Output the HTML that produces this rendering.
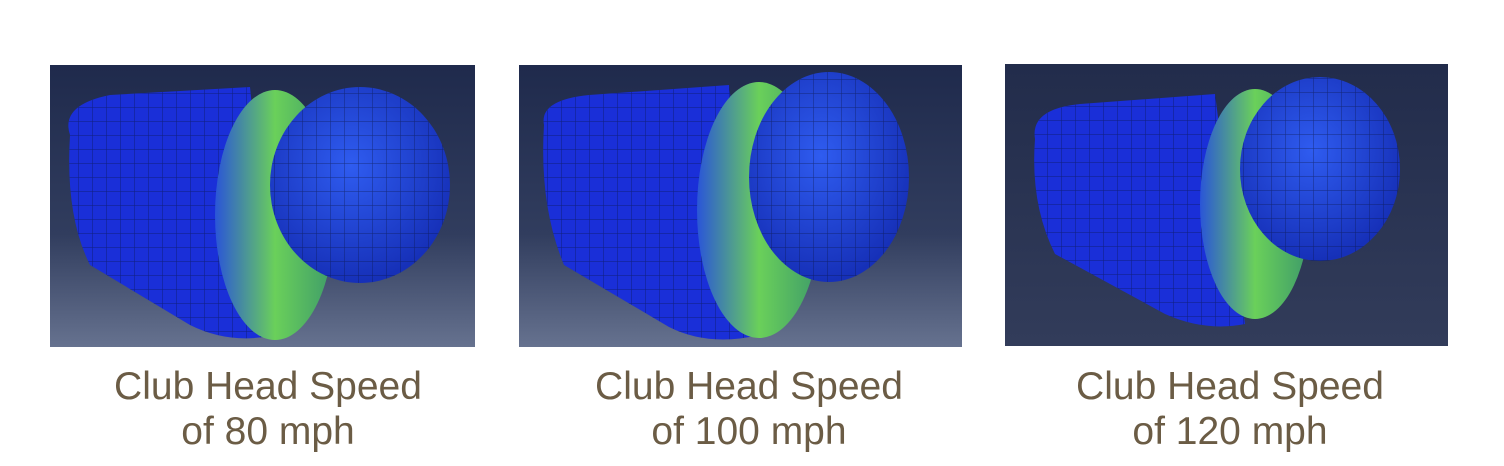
<!DOCTYPE html>
<html><head><meta charset="utf-8"><style>
body{margin:0;width:1504px;height:466px;background:#fff;position:relative;overflow:hidden;font-family:"Liberation Sans",sans-serif}
.panel{position:absolute}
.cap{position:absolute;width:440px;text-align:center;color:#6b5c45;font-size:39px;line-height:45px}
</style></head><body>
<svg width="0" height="0" style="position:absolute">
<defs>
<linearGradient id="bg" x1="0" y1="0" x2="0" y2="1"><stop offset="0" stop-color="#1f2a4c"/><stop offset="0.6" stop-color="#313d5e"/><stop offset="1" stop-color="#66728f"/></linearGradient>
<linearGradient id="bg3" x1="0" y1="0" x2="0" y2="1"><stop offset="0" stop-color="#222c4b"/><stop offset="1" stop-color="#323c5a"/></linearGradient>
<linearGradient id="band" x1="0" y1="0" x2="1" y2="0"><stop offset="0" stop-color="#2a55d8"/><stop offset="0.5" stop-color="#6ad05a"/><stop offset="1" stop-color="#3d9a6a"/></linearGradient>
<radialGradient id="ball" cx="0.45" cy="0.4" r="0.6"><stop offset="0" stop-color="#2f5cf0"/><stop offset="1" stop-color="#1630b8"/></radialGradient>
<pattern id="grid" width="14" height="14" patternUnits="userSpaceOnUse"><path d="M14 0H0V14" fill="none" stroke="#0a1440" stroke-width="1"/></pattern>
</defs></svg>

<div class="panel" style="left:50px;top:65px;width:425px;height:282px">
<svg width="425" height="282"><rect width="425" height="282" fill="url(#bg)"/>
<path d="M20 70 Q10 40 60 30 L200 22 L225 270 Q180 280 140 260 L40 200 Q15 150 20 70Z" fill="#1a2fd8"/>
<path d="M20 70 Q10 40 60 30 L200 22 L225 270 Q180 280 140 260 L40 200 Q15 150 20 70Z" fill="url(#grid)" opacity=".6"/>
<ellipse cx="225" cy="150" rx="60" ry="125" fill="url(#band)"/>
<ellipse cx="310" cy="120" rx="90" ry="98" fill="url(#ball)"/>
<ellipse cx="310" cy="120" rx="90" ry="98" fill="url(#grid)" opacity=".6"/>
</svg></div>

<div class="panel" style="left:519px;top:65px;width:443px;height:282px">
<svg width="443" height="282"><rect width="443" height="282" fill="url(#bg)"/>
<path d="M25 60 Q20 35 70 30 L210 20 L240 270 Q190 282 150 262 L45 200 Q20 140 25 60Z" fill="#1a2fd8"/>
<path d="M25 60 Q20 35 70 30 L210 20 L240 270 Q190 282 150 262 L45 200 Q20 140 25 60Z" fill="url(#grid)" opacity=".6"/>
<ellipse cx="240" cy="145" rx="62" ry="128" fill="url(#band)"/>
<ellipse cx="310" cy="112" rx="80" ry="105" fill="url(#ball)"/>
<ellipse cx="310" cy="112" rx="80" ry="105" fill="url(#grid)" opacity=".6"/>
</svg></div>

<div class="panel" style="left:1005px;top:64px;width:443px;height:282px">
<svg width="443" height="282"><rect width="443" height="282" fill="url(#bg3)"/>
<path d="M30 75 Q25 45 75 40 L210 30 L240 260 Q200 268 160 250 L50 190 Q25 140 30 75Z" fill="#1a2fd8"/>
<path d="M30 75 Q25 45 75 40 L210 30 L240 260 Q200 268 160 250 L50 190 Q25 140 30 75Z" fill="url(#grid)" opacity=".6"/>
<ellipse cx="250" cy="140" rx="55" ry="115" fill="url(#band)"/>
<ellipse cx="315" cy="105" rx="80" ry="92" fill="url(#ball)"/>
<ellipse cx="315" cy="105" rx="80" ry="92" fill="url(#grid)" opacity=".6"/>
</svg></div>

<div class="cap" style="left:48px;top:364px">Club Head Speed<br>of 80 mph</div>
<div class="cap" style="left:529px;top:364px">Club Head Speed<br>of 100 mph</div>
<div class="cap" style="left:1010px;top:364px">Club Head Speed<br>of 120 mph</div>
</body></html>
